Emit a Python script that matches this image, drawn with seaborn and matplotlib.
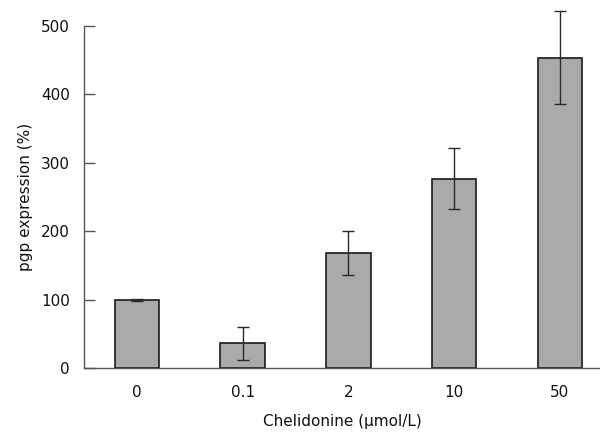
import matplotlib
matplotlib.use("Agg")
import matplotlib.pyplot as plt
import seaborn as sns
import pandas as pd
import numpy as np

categories = ["0", "0.1", "2", "10", "50"]
values = [100, 37, 168, 277, 453]
errors = [1, 24, 32, 45, 68]

sns.set_style("white")
plt.rcParams['font.family'] = ['DejaVu Sans']
plt.rcParams['text.color'] = '#111111'
plt.rcParams['axes.labelcolor'] = '#111111'
plt.rcParams['xtick.color'] = '#111111'
plt.rcParams['ytick.color'] = '#111111'

df = pd.DataFrame({"conc": categories, "val": values})

fig = plt.figure(figsize=(6.0, 4.34), dpi=100)
ax = fig.add_axes([0.14, 0.151, 0.86, 0.790])

sns.barplot(data=df, x="conc", y="val", order=categories, color="#aaaaaa",
            width=0.42, edgecolor="#1a1a1a", linewidth=1.2, errorbar=None,
            saturation=1, ax=ax)
ax.errorbar(np.arange(len(categories)), values, yerr=errors, fmt="none",
            ecolor="#2a2a2a", elinewidth=1.0, capsize=4, capthick=1.0,
            clip_on=False, zorder=5)

ax.set_xlim(-0.5, 4.38)
ax.set_ylim(0, 500)
ax.set_yticks([0, 100, 200, 300, 400, 500])
ax.tick_params(axis="y", left=True, direction="in", length=8, width=1,
               color="#555555", labelcolor="#111111", labelsize=11, pad=10)
ax.tick_params(axis="x", bottom=False, length=0, labelsize=11, pad=12,
               labelcolor="#111111")
for s in ["top", "right"]:
    ax.spines[s].set_visible(False)
for s in ["left", "bottom"]:
    ax.spines[s].set_color("#555555")
    ax.spines[s].set_linewidth(1.0)

ax.set_xlabel("Chelidonine (μmol/L)", fontsize=11, labelpad=10)
ax.set_ylabel("pgp expression (%)", fontsize=11, labelpad=6)

fig.savefig("out.png", dpi=100)
